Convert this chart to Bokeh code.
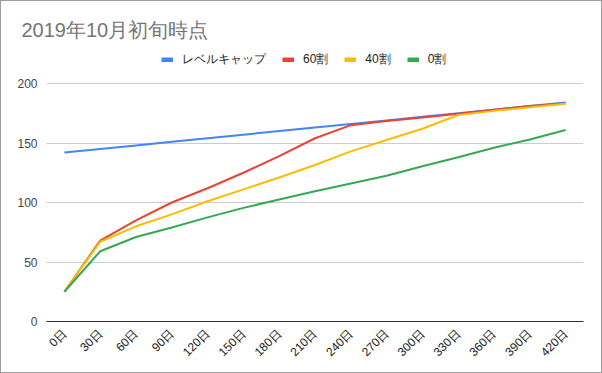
import math
from bokeh.plotting import figure
from bokeh.models import Range1d, FixedTicker, Legend, LegendItem
from bokeh.embed import file_html
from bokeh.resources import INLINE

categories = ["0日", "30日", "60日", "90日", "120日", "150日", "180日", "210日",
              "240日", "270日", "300日", "330日", "360日", "390日", "420日"]
level_cap = [142, 145, 148, 151, 154, 157, 160, 163, 166, 169, 172, 175, 178, 181, 184]
wari60 = [25, 68, 85, 100, 112, 125, 139, 154, 165, 168.5, 171.5, 174.5, 178, 181, 183]
wari40 = [25, 67, 80, 90, 101, 111, 121, 131.5, 143, 152.5, 162, 173.5, 177, 180, 183]
wari0 = [25, 59, 71, 79, 87.5, 95.5, 102.5, 109.5, 116, 122.5, 130.5, 138, 146, 153, 161]
series_names = ["レベルキャップ", "60割", "40割", "0割"]
colors = ["#4285F4", "#EA4335", "#FBBC04", "#34A853"]
y_ticks = [0, 50, 100, 150, 200]

FONT = "Liberation Sans"

# frame spans page y 40..320; value 200 sits at y=82 (legend lives in the top strip)
frame_top, frame_bottom, y200 = 40, 320, 82
y_max = 200 * (frame_bottom - frame_top) / (frame_bottom - y200)

p = figure(width=602, height=373, x_range=categories, y_range=Range1d(0, y_max),
           output_backend="svg", toolbar_location=None,
           title="2019年10月初旬時点",
           min_border_left=45, min_border_right=20, min_border_top=frame_top,
           min_border_bottom=373 - frame_bottom)
p.styles = {"border": "1px solid #9e9e9e", "box-sizing": "border-box"}
p.title.text_font = FONT
p.title.text_font_size = "20px"
p.title.text_color = "#757575"
p.title.text_font_style = "normal"
p.title.align = "left"
p.title.offset = -25
p.title.standoff = 2
p.outline_line_color = None

series = [level_cap, wari60, wari40, wari0]
for vals, c in zip(series, colors):
    p.line(categories, vals, line_color=c, line_width=2)

# legend-only renderers: a single-point line draws nothing but gives a thick swatch
swatches = []
for name, vals, c in zip(series_names, series, colors):
    r = p.line(x=categories[:1], y=vals[:1], line_color=c, line_width=5)
    swatches.append((name, r))

p.xgrid.grid_line_color = None
p.ygrid.grid_line_color = "#cccccc"
p.yaxis.ticker = FixedTicker(ticks=y_ticks)
p.yaxis.axis_line_color = None
p.yaxis.major_tick_line_color = None
p.yaxis.minor_tick_line_color = None
p.yaxis.major_label_text_font = FONT
p.yaxis.major_label_text_font_size = "12px"
p.yaxis.major_label_text_color = "#444444"
p.yaxis.major_label_standoff = 3

p.xaxis.axis_line_color = "#333333"
p.xaxis.major_tick_line_color = None
p.xaxis.minor_tick_line_color = None
p.xaxis.major_label_orientation = math.pi / 4
p.xaxis.major_label_text_font = FONT
p.xaxis.major_label_text_font_size = "12px"
p.xaxis.major_label_text_color = "#222222"
p.xaxis.major_label_standoff = 4

legend = Legend(items=[LegendItem(label=n, renderers=[r]) for n, r in swatches],
                orientation="horizontal", location=(115, 252),
                glyph_width=12, glyph_height=5, label_height=20, label_standoff=9, spacing=16,
                padding=0, margin=0, border_line_color=None, background_fill_alpha=0,
                label_text_font=FONT, label_text_font_size="12px", label_text_color="#222222")
p.add_layout(legend, "center")

open("out.html", "w").write(file_html(p, INLINE))
